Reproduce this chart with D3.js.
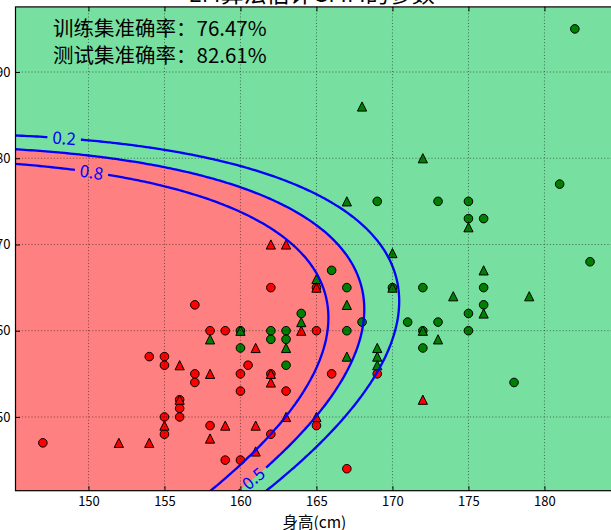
<!DOCTYPE html>
<html>
<head>
<meta charset="utf-8">
<script src="https://cdn.jsdelivr.net/npm/d3@7"></script>
<style>
  html, body { margin: 0; padding: 0; background: #fff; }
  svg { display: block; }
  text { font-family: "Noto Sans CJK SC", "Noto Sans", sans-serif; }
</style>
</head>
<body>
<svg id="chart" width="611" height="530"></svg>
<script>
// ---- data: [height (cm), weight (kg)] ----
// training samples (drawn as circles)
const trainFemale = [
  [162,65],[165,65],[157,63],[158,60],[159,60],[165,60],[154,57],[155,57],[155,56],[157,55],
  [157,54],[160,55],[160.5,56],[162,55],[166,55],[160,53],[163,53],[156,52],[156,51],[156,50],
  [155,50],[155,48],[165,49],[158,49],[162,48],[159,45],[160,45],[167,44],[169,55],[147,47]
];
const trainMale = [
  [166,67],[167,65],[164,62],[168,61],[160,60],[162,60],[162,59],[163,60],[163,59],[167,60],
  [160,58],[163,56],[182,95],[181,77],[169,75],[173,75],[175,75],[175,73],[176,73],[183,68],
  [170,65],[172,65],[176,65],[176,63],[175,62],[171,61],[173,61],[175,60],[172,60],[172,58],[178,54]
];
// test samples (drawn as triangles)
const testFemale = [
  [162,70],[163,70],[165,65],[164,60],[161,58],[156,56],[158,55],[162,55],[162,54],[156,52],
  [155,49],[163,50],[165,50],[159,49],[161,49],[158,47.5],[154,47],[161,46],[152,47],[172,52]
];
const testMale = [
  [165,66],[167,63],[164,61],[158,59],[160,60],[163,58],[167,57],[168,86],[172,80],[167,75],
  [175,72],[170,69],[176,67],[170,65],[174,64],[179,64],[176,62],[172,60],[173,59],[169,58],
  [169,57],[169,56]
];
const xTicks = [150, 155, 160, 165, 170, 175, 180];
const yTicks = [50, 60, 70, 80, 90];
const contourLevels = [0.2, 0.5, 0.8];
// where each contour label sits (level, height, weight)
const contourLabelSpots = [[0.2, 148.5, 83.6], [0.8, 150.4, 79.7], [0.5, 161.0, 42.6]];
const accTrainText = "训练集准确率：76.47%";
const accTestText = "测试集准确率：82.61%";
const titleText = "EM算法估计GMM的参数";
const xLabelText = "身高(cm)";

// ---- layout ----
const W = 611, H = 530;
const plot = { left: 15.5, right: 617.4, top: 6.9, bottom: 490.7 };
const colors = { bgFemale: "#FF8080", bgMale: "#77E0A0", female: "#FF0000", male: "#008000", contour: "#0000FF" };

const train = trainFemale.map(p => [p[0], p[1], 0]).concat(trainMale.map(p => [p[0], p[1], 1]));
const test = testFemale.map(p => [p[0], p[1], 0]).concat(testMale.map(p => [p[0], p[1], 1]));

// axis ranges: training extent padded by 5%
const [h0, h1] = d3.extent(train, d => d[0]);
const [w0, w1] = d3.extent(train, d => d[1]);
const xDom = [h0 - 0.05 * (h1 - h0), h1 + 0.05 * (h1 - h0)];
const yDom = [w0 - 0.05 * (w1 - w0), w1 + 0.05 * (w1 - w0)];
const x = d3.scaleLinear().domain(xDom).range([plot.left, plot.right]);
const y = d3.scaleLinear().domain(yDom).range([plot.bottom, plot.top]);

// ---- Gaussian mixture fitted with EM on the training samples ----
function logGauss(p, mu, cov) {
  const a = cov[0][0], b = cov[0][1], c = cov[1][1];
  const det = a * c - b * b;
  const dx = p[0] - mu[0], dy = p[1] - mu[1];
  const q = (c * dx * dx - 2 * b * dx * dy + a * dy * dy) / det;
  return -0.5 * q - Math.log(2 * Math.PI) - 0.5 * Math.log(det);
}
function mStep(pts, resp) {
  return [0, 1].map(j => {
    const nk = d3.sum(resp, r => r[j]) + 1e-10;
    const mx = d3.sum(pts, (p, i) => resp[i][j] * p[0]) / nk;
    const my = d3.sum(pts, (p, i) => resp[i][j] * p[1]) / nk;
    let sxx = 0, sxy = 0, syy = 0;
    pts.forEach((p, i) => {
      const r = resp[i][j], dx = p[0] - mx, dy = p[1] - my;
      sxx += r * dx * dx; sxy += r * dx * dy; syy += r * dy * dy;
    });
    return { w: nk / pts.length, mu: [mx, my], cov: [[sxx / nk + 1e-6, sxy / nk], [sxy / nk, syy / nk + 1e-6]] };
  });
}
function fitGMM(pts) {
  const d2 = (a, b) => (a[0] - b[0]) ** 2 + (a[1] - b[1]) ** 2;
  let centers = [pts[d3.minIndex(pts, p => p[0])], pts[d3.maxIndex(pts, p => p[0])]].map(p => [p[0], p[1]]);
  let assign = [];
  for (let it = 0; it < 100; it++) {
    assign = pts.map(p => (d2(p, centers[0]) <= d2(p, centers[1]) ? 0 : 1));
    const next = [0, 1].map(j => {
      const m = pts.filter((p, i) => assign[i] === j);
      return [d3.mean(m, p => p[0]), d3.mean(m, p => p[1])];
    });
    const moved = d2(next[0], centers[0]) + d2(next[1], centers[1]);
    centers = next;
    if (moved < 1e-12) break;
  }
  let resp = pts.map((p, i) => (assign[i] === 0 ? [1, 0] : [0, 1]));
  let model = mStep(pts, resp);
  let prev = -Infinity;
  for (let it = 0; it < 100; it++) {
    let lb = 0;
    resp = pts.map(p => {
      const l = model.map(g => Math.log(g.w) + logGauss(p, g.mu, g.cov));
      const m = Math.max(...l);
      const s = m + Math.log(l.reduce((a, v) => a + Math.exp(v - m), 0));
      lb += s;
      return l.map(v => Math.exp(v - s));
    });
    lb /= pts.length;
    model = mStep(pts, resp);
    if (Math.abs(lb - prev) < 1e-3) break;
    prev = lb;
  }
  // component with the smaller mean height stands for the female class
  return model[0].mu[0] <= model[1].mu[0] ? model : [model[1], model[0]];
}
const gmm = fitGMM(train.map(d => [d[0], d[1]]));
function probFemale(p) {
  const l = gmm.map(g => Math.log(g.w) + logGauss(p, g.mu, g.cov));
  return 1 / (1 + Math.exp(l[1] - l[0]));
}

// posterior on a grid wider than the plot, so the contour border stays outside the clip
const step = 0.2;
const gx0 = xDom[0] - 5, gy0 = yDom[0] - 5;
const nx = Math.ceil((xDom[1] + 5 - gx0) / step) + 1;
const ny = Math.ceil((yDom[1] + 5 - gy0) / step) + 1;
const grid = new Float64Array(nx * ny);
for (let j = 0; j < ny; j++)
  for (let i = 0; i < nx; i++)
    grid[j * nx + i] = probFemale([gx0 + i * step, gy0 + j * step]);

const toPx = c => [x(gx0 + (c[0] - 0.5) * step), y(gy0 + (c[1] - 0.5) * step)];
const contourGen = d3.contours().size([nx, ny]);
const ringsOf = mp => mp.coordinates.flatMap(poly => poly.map(ring => ring.map(toPx)));
const line = d3.line();

// ---- drawing ----
const svg = d3.select("#chart");
const defs = svg.append("defs");
defs.append("clipPath").attr("id", "plot-clip")
  .append("rect").attr("x", plot.left).attr("y", plot.top)
  .attr("width", plot.right - plot.left).attr("height", plot.bottom - plot.top);

const area = svg.append("g").attr("clip-path", "url(#plot-clip)");

// predicted class regions
area.append("rect").attr("x", plot.left).attr("y", plot.top)
  .attr("width", plot.right - plot.left).attr("height", plot.bottom - plot.top)
  .attr("fill", colors.bgMale);
const femaleRegion = contourGen.thresholds([0.5])(grid)[0];
area.append("path")
  .attr("d", ringsOf(femaleRegion).map(r => line(r) + "Z").join(""))
  .attr("fill", colors.bgFemale).attr("fill-rule", "evenodd");

// samples
area.append("g").selectAll("circle").data(train).join("circle")
  .attr("cx", d => x(d[0])).attr("cy", d => y(d[1])).attr("r", 4.3)
  .attr("fill", d => (d[2] === 0 ? colors.female : colors.male))
  .attr("stroke", "#000").attr("stroke-width", 1);
const tri = s => `M0,${-s}L${s},${s}L${-s},${s}Z`;
area.append("g").selectAll("path").data(test).join("path")
  .attr("transform", d => `translate(${x(d[0])},${y(d[1])})`)
  .attr("d", tri(4.6))
  .attr("fill", d => (d[2] === 0 ? colors.female : colors.male))
  .attr("stroke", "#000").attr("stroke-width", 1);

// contour lines
const contourSets = contourGen.thresholds(contourLevels)(grid);
const mask = defs.append("mask").attr("id", "label-gaps").attr("maskUnits", "userSpaceOnUse")
  .attr("x", 0).attr("y", 0).attr("width", W).attr("height", H);
mask.append("rect").attr("width", W).attr("height", H).attr("fill", "#fff");
const lines = area.append("g").attr("mask", "url(#label-gaps)");
const labelLayer = area.append("g");
const fmt = d3.format(".1f");

contourSets.forEach(cs => {
  const rings = ringsOf(cs);
  lines.append("path")
    .attr("d", rings.map(r => line(r) + "Z").join(""))
    .attr("fill", "none").attr("stroke", colors.contour).attr("stroke-width", 2.3);
  contourLabelSpots.filter(s => s[0] === cs.value).forEach(s => {
    const tx = x(s[1]), ty = y(s[2]);
    let best = null, bestD = Infinity;
    rings.forEach(r => r.forEach((p, k) => {
      const dd = (p[0] - tx) ** 2 + (p[1] - ty) ** 2;
      if (dd < bestD) { bestD = dd; best = { r, k }; }
    }));
    const r = best.r, n = r.length;
    const a = r[(best.k - 3 + n) % n], b = r[(best.k + 3) % n], c = r[best.k];
    let ang = Math.atan2(b[1] - a[1], b[0] - a[0]) * 180 / Math.PI;
    if (ang > 90) ang -= 180;
    if (ang <= -90) ang += 180;
    const t = labelLayer.append("text")
      .attr("transform", `translate(${c[0]},${c[1]}) rotate(${ang})`)
      .attr("text-anchor", "middle").attr("dy", "0.36em")
      .attr("font-size", 17).attr("fill", colors.contour)
      .text(fmt(cs.value));
    const tw = t.node().getComputedTextLength();
    mask.append("rect")
      .attr("transform", `translate(${c[0]},${c[1]}) rotate(${ang})`)
      .attr("x", -tw / 2 - 5).attr("y", -9).attr("width", tw + 10).attr("height", 18)
      .attr("fill", "#000");
  });
});

// grid (dotted, above the marks)
const gridG = svg.append("g").attr("stroke", "#000").attr("stroke-width", 0.7)
  .attr("stroke-dasharray", "1,2.2").attr("opacity", 0.75);
gridG.selectAll(".gx").data(xTicks).join("line")
  .attr("x1", d => x(d)).attr("x2", d => x(d)).attr("y1", plot.top).attr("y2", plot.bottom);
gridG.selectAll(".gy").data(yTicks).join("line")
  .attr("y1", d => y(d)).attr("y2", d => y(d)).attr("x1", plot.left).attr("x2", plot.right);

// frame and inward ticks
svg.append("rect").attr("x", plot.left).attr("y", plot.top)
  .attr("width", plot.right - plot.left).attr("height", plot.bottom - plot.top)
  .attr("fill", "none").attr("stroke", "#000").attr("stroke-width", 1.2);
const tickLen = 4.5;
const xAxisBottom = svg.append("g").attr("transform", `translate(0,${plot.bottom})`)
  .call(d3.axisBottom(x).tickValues(xTicks).tickSizeInner(-tickLen).tickSizeOuter(0).tickPadding(6));
const xAxisTop = svg.append("g").attr("transform", `translate(0,${plot.top})`)
  .call(d3.axisTop(x).tickValues(xTicks).tickSizeInner(-tickLen).tickSizeOuter(0).tickFormat(""));
const yAxisLeft = svg.append("g").attr("transform", `translate(${plot.left},0)`)
  .call(d3.axisLeft(y).tickValues(yTicks).tickSizeInner(-tickLen).tickSizeOuter(0).tickPadding(5));
[xAxisBottom, xAxisTop, yAxisLeft].forEach(g => {
  g.select(".domain").remove();
  g.selectAll(".tick line").attr("stroke", "#000").attr("stroke-width", 1);
  g.selectAll(".tick text").attr("font-size", 13).attr("fill", "#000")
    .attr("font-family", "'Noto Sans CJK SC', sans-serif");
});

// accuracy notes
svg.append("text").attr("x", 53).attr("y", 36).attr("font-size", 20.5).attr("fill", "#000").text(accTrainText);
svg.append("text").attr("x", 53).attr("y", 62.5).attr("font-size", 20.5).attr("fill", "#000").text(accTestText);

// title and axis label
svg.append("text").attr("x", (plot.left + plot.right) / 2 - 5).attr("y", 2)
  .attr("text-anchor", "middle").attr("font-size", 23).attr("fill", "#000").text(titleText);
svg.append("text").attr("x", (plot.left + plot.right) / 2 - 2).attr("y", 527.5)
  .attr("text-anchor", "middle").attr("font-size", 15.5).attr("fill", "#000").text(xLabelText);
</script>
</body>
</html>
